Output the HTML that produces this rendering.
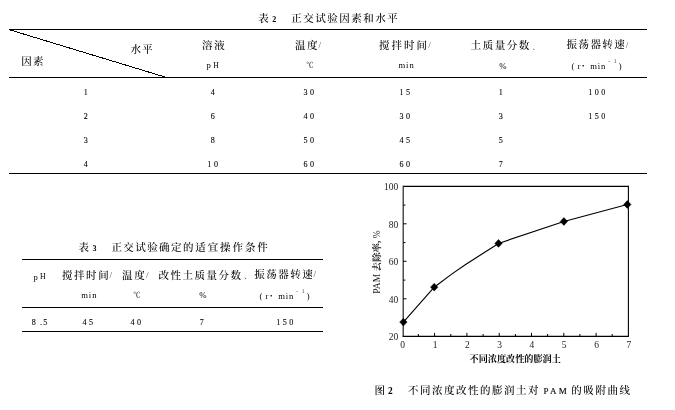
<!DOCTYPE html>
<html lang="zh-CN">
<head>
<meta charset="utf-8">
<title>表 2 正交试验因素和水平</title>
<style>
html,body{margin:0;padding:0;background:#fff;}
body{width:675px;height:410px;position:relative;overflow:hidden;color:#000;font-family:"Liberation Serif","Noto Serif CJK SC",serif;}
span{position:absolute;white-space:nowrap;line-height:20px;margin-top:-10px;}
.c{transform:translateX(-50%);}
.zh{font-size:10.5px;letter-spacing:1.3px;font-weight:500;}
.zh.c{letter-spacing:0;}
.sm{font-size:7px;}
i{font-style:normal;font-size:9px;letter-spacing:0;position:relative;top:-0.6px;left:-0.6px;color:#555;}
i.dn{font-size:6.5px;top:-0.4px;left:1.6px;color:#222;}
.en{font-family:"Liberation Serif",serif;font-size:8.6px;letter-spacing:1.4px;}
.en.c{letter-spacing:0;}
.sp{font-size:5.5px;letter-spacing:0;color:#444;}
.b{font-family:"Liberation Serif",serif;font-size:8px;font-weight:bold;}
.num{font-family:"Liberation Serif",serif;font-size:9.2px;letter-spacing:2.8px;margin-left:1.23px;-webkit-text-stroke:0.1px #000;}
.num.c{transform:translateX(-50%) scaleX(0.88);}
.pam{font-family:"Liberation Serif",serif;font-size:9px;letter-spacing:2.3px;-webkit-text-stroke:0.12px #000;}
.hl{position:absolute;height:0;border-top:1.3px solid #000;}
svg{position:absolute;left:0;top:0;}
.ax{font-family:"Liberation Serif",serif;font-size:9.5px;fill:#222;}
.xt{font-family:"Liberation Serif","Noto Serif CJK SC",serif;font-size:9.15px;font-weight:700;fill:#000;}
.yt{font-family:"Liberation Serif","Noto Serif CJK SC",serif;font-size:9.5px;fill:#222;font-weight:500;}
</style>
</head>
<body>
<div class="hl" style="left:9.2px;width:637.6px;top:29px"></div>
<div class="hl" style="left:9.2px;width:637.6px;top:76.8px"></div>
<div class="hl" style="left:9.2px;width:637.6px;top:172.6px"></div>
<div class="hl" style="left:22px;width:300.5px;top:259px"></div>
<div class="hl" style="left:22px;width:300.5px;top:307px"></div>
<div class="hl" style="left:22px;width:300.5px;top:331px"></div>
<svg width="675" height="410" viewBox="0 0 675 410">
<line x1="9.6" y1="29.8" x2="164.6" y2="76.9" stroke="#000" stroke-width="1" shape-rendering="crispEdges"/>
<path d="M403.2 186.3H628.4" fill="none" stroke="#000" stroke-width="1.3"/>
<path d="M628.4 185.7V336.3" fill="none" stroke="#000" stroke-width="1.1"/>
<path d="M403.2 185.8V336.3" fill="none" stroke="#222" stroke-width="1.2"/>
<path d="M402.6 336.3H628.9" fill="none" stroke="#000" stroke-width="1.3"/>
<path d="M403.2 298.8h3.3M403.2 280.1h2.2M403.2 261.3h3.3M403.2 242.6h2.2M403.2 223.8h3.3M403.2 205.1h2.2M418.4 336.3v-2.3M434.6 336.3v-3.4M450.8 336.3v-2.3M466.9 336.3v-3.4M483.1 336.3v-2.3M499.2 336.3v-3.4M515.4 336.3v-2.3M531.5 336.3v-3.4M547.6 336.3v-2.3M563.8 336.3v-3.4M579.9 336.3v-2.3M596.1 336.3v-3.4M612.2 336.3v-2.3" stroke="#000" stroke-width="1" fill="none"/>
<polyline points="403.4,322.1 434.2,287.2 452.0,273.9 466.0,264.3 482.0,254.0 498.5,243.4 563.9,221.5 627.3,204.5" fill="none" stroke="#000" stroke-width="1.15"/>
<path d="M403.4 318.2L407.1 322.1L403.4 326.0L399.7 322.1Z" fill="#000" stroke="#000" stroke-width="0.5" stroke-linejoin="round"/>
<path d="M434.2 283.3L437.9 287.2L434.2 291.1L430.5 287.2Z" fill="#000" stroke="#000" stroke-width="0.5" stroke-linejoin="round"/>
<path d="M498.5 239.5L502.2 243.4L498.5 247.3L494.8 243.4Z" fill="#000" stroke="#000" stroke-width="0.5" stroke-linejoin="round"/>
<path d="M563.9 217.6L567.6 221.5L563.9 225.4L560.2 221.5Z" fill="#000" stroke="#000" stroke-width="0.5" stroke-linejoin="round"/>
<path d="M627.3 200.6L631.0 204.5L627.3 208.4L623.6 204.5Z" fill="#000" stroke="#000" stroke-width="0.5" stroke-linejoin="round"/>
<text x="398.3" y="340.0" text-anchor="end" class="ax">20</text>
<text x="398.3" y="302.5" text-anchor="end" class="ax">40</text>
<text x="398.3" y="265.0" text-anchor="end" class="ax">60</text>
<text x="398.3" y="227.5" text-anchor="end" class="ax">80</text>
<text x="398.3" y="190.0" text-anchor="end" class="ax">100</text>
<text x="402.7" y="347.6" text-anchor="middle" class="ax">0</text>
<text x="435.0" y="347.6" text-anchor="middle" class="ax">1</text>
<text x="467.3" y="347.6" text-anchor="middle" class="ax">2</text>
<text x="499.6" y="347.6" text-anchor="middle" class="ax">3</text>
<text x="531.9" y="347.6" text-anchor="middle" class="ax">4</text>
<text x="564.2" y="347.6" text-anchor="middle" class="ax">5</text>
<text x="596.5" y="347.6" text-anchor="middle" class="ax">6</text>
<text x="628.8" y="347.6" text-anchor="middle" class="ax">7</text>
<text x="515.2" y="362.3" text-anchor="middle" class="xt">不同浓度改性的膨润土</text>
<text transform="translate(380.4,262) rotate(-90)" text-anchor="middle" class="yt">PAM <tspan font-weight="700">去除率,</tspan> %</text>
</svg>
<span class="zh" style="left:258.3px;top:18.5px;">表</span>
<span class="b" style="left:272.3px;top:19.7px;">2</span>
<span class="zh" style="left:291.2px;top:18.5px;letter-spacing:1.52px">正交试验因素和水平</span>
<span class="zh" style="left:130.5px;top:49.6px;">水平</span>
<span class="zh" style="left:21.3px;top:61.7px;">因素</span>
<span class="zh" style="left:202px;top:46.1px;letter-spacing:1.8px">溶液</span>
<span class="en" style="left:206.5px;top:64.8px;">p</span>
<span class="en" style="left:213.2px;top:66.0px;font-size:7.8px">H</span>
<span class="zh" style="left:295px;top:46px;letter-spacing:1.5px">温度<i>/</i></span>
<span class="zh sm c" style="left:309.7px;top:65.3px;">℃</span>
<span class="zh" style="left:379px;top:46px;letter-spacing:1.97px">搅拌时间<i>/</i></span>
<span class="en" style="left:398.4px;top:65.3px;letter-spacing:1px">min</span>
<span class="zh" style="left:470.6px;top:46px;letter-spacing:1.54px">土质量分数<i class="dn">、</i></span>
<span class="en c" style="left:502.8px;top:65.5px;font-size:8.8px">%</span>
<span class="zh" style="left:566.5px;top:45.1px;letter-spacing:1.45px">振荡器转速<i>/</i></span>
<span class="en" style="left:571.6px;top:66px;">(</span>
<span class="en" style="left:577.6px;top:66px;">r</span>
<span class="en" style="left:581.9px;top:66.2px;font-size:7px">•</span>
<span class="en" style="left:590.2px;top:66px;letter-spacing:0.9px">min</span>
<span class="en sp" style="left:608.2px;top:61.4px;">-</span>
<span class="en sp" style="left:613.8000000000001px;top:61.4px;">1</span>
<span class="en" style="left:618.8000000000001px;top:66px;">)</span>
<span class="num c" style="left:85.7px;top:92.3px;">1</span>
<span class="num c" style="left:212.3px;top:92.3px;">4</span>
<span class="num c" style="left:308.7px;top:92.3px;">30</span>
<span class="num c" style="left:405.2px;top:92.3px;">15</span>
<span class="num c" style="left:501.1px;top:92.3px;">1</span>
<span class="num c" style="left:597.2px;top:92.3px;">100</span>
<span class="num c" style="left:85.7px;top:116.3px;">2</span>
<span class="num c" style="left:212.3px;top:116.3px;">6</span>
<span class="num c" style="left:308.7px;top:116.3px;">40</span>
<span class="num c" style="left:405.2px;top:116.3px;">30</span>
<span class="num c" style="left:501.1px;top:116.3px;">3</span>
<span class="num c" style="left:597.2px;top:116.3px;">150</span>
<span class="num c" style="left:85.7px;top:140.3px;">3</span>
<span class="num c" style="left:212.3px;top:140.3px;">8</span>
<span class="num c" style="left:308.7px;top:140.3px;">50</span>
<span class="num c" style="left:405.2px;top:140.3px;">45</span>
<span class="num c" style="left:501.1px;top:140.3px;">5</span>
<span class="num c" style="left:85.7px;top:164.3px;">4</span>
<span class="num c" style="left:212.3px;top:164.3px;letter-spacing:3px;margin-left:1.5px">10</span>
<span class="num c" style="left:308.7px;top:164.3px;">60</span>
<span class="num c" style="left:405.2px;top:164.3px;">60</span>
<span class="num c" style="left:501.1px;top:164.3px;">7</span>
<span class="zh" style="left:78.5px;top:248px;">表</span>
<span class="b" style="left:92.4px;top:249.2px;">3</span>
<span class="zh" style="left:111.4px;top:248px;letter-spacing:1.42px">正交试验确定</span>
<span class="zh" style="left:182.9px;top:248px;letter-spacing:1.9px">的适宜操作条件</span>
<span class="en" style="left:33.5px;top:276.6px;">p</span>
<span class="en" style="left:40.0px;top:276.6px;font-size:7.8px">H</span>
<span class="zh" style="left:62px;top:275.7px;letter-spacing:1.55px">搅拌时间<i>/</i></span>
<span class="zh" style="left:122.1px;top:275.7px;letter-spacing:1.75px">温度<i>/</i></span>
<span class="zh" style="left:158.45px;top:275.7px;letter-spacing:1.52px">改性土质量分数<i class="dn">、</i></span>
<span class="zh" style="left:254.2px;top:275.05px;letter-spacing:1.5px">振荡器转速<i>/</i></span>
<span class="en" style="left:81.2px;top:295px;letter-spacing:0.95px">min</span>
<span class="zh sm c" style="left:136.8px;top:295px;">℃</span>
<span class="en c" style="left:202.8px;top:295.2px;font-size:8.8px">%</span>
<span class="en" style="left:259.6px;top:295.7px;">(</span>
<span class="en" style="left:265.6px;top:295.7px;">r</span>
<span class="en" style="left:269.90000000000003px;top:295.9px;font-size:7px">•</span>
<span class="en" style="left:278.20000000000005px;top:295.7px;letter-spacing:0.9px">min</span>
<span class="en sp" style="left:296.20000000000005px;top:291.09999999999997px;">-</span>
<span class="en sp" style="left:301.8px;top:291.09999999999997px;">1</span>
<span class="en" style="left:306.8px;top:295.7px;">)</span>
<span class="num c" style="left:39.3px;top:321.8px;letter-spacing:1.3px;margin-left:0.65px">8 .5</span>
<span class="num c" style="left:87.5px;top:321.7px;">45</span>
<span class="num c" style="left:135.6px;top:321.7px;">40</span>
<span class="num c" style="left:201.8px;top:321.7px;">7</span>
<span class="num c" style="left:284.8px;top:321.7px;">150</span>
<span class="zh" style="left:374.6px;top:390.5px;">图</span>
<span class="b" style="left:388px;top:390.6px;font-size:9.4px">2</span>
<span class="zh" style="left:408px;top:390.5px;letter-spacing:1.5px">不同浓度改性的膨润土对</span>
<span class="pam" style="left:543.6px;top:390.6px;">PAM</span>
<span class="zh" style="left:571.2px;top:390.5px;letter-spacing:1.6px">的吸附曲线</span>
</body>
</html>
